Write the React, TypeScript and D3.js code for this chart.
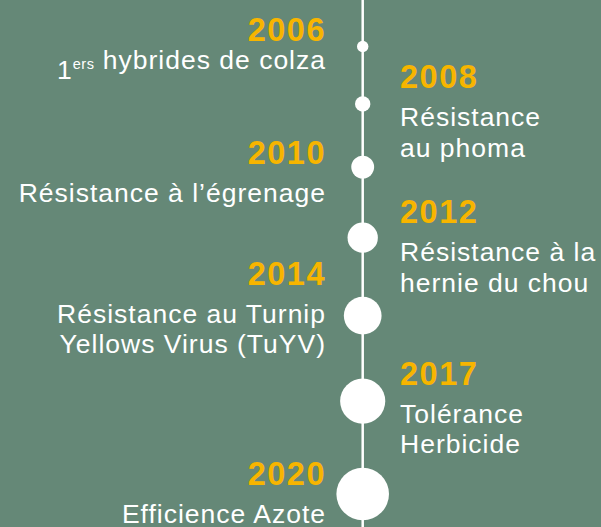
import React, { useRef, useEffect } from 'react';
import * as d3 from 'd3';

// jalons de la frise
const years = ['2006', '2008', '2010', '2012', '2014', '2017', '2020'];
const sides = ['left', 'right', 'left', 'right', 'left', 'right', 'left'];
const labels = [
  ['1{ers} hybrides de colza'],
  ['Résistance', 'au phoma'],
  ['Résistance à l’égrenage'],
  ['Résistance à la', 'hernie du chou'],
  ['Résistance au Turnip', 'Yellows Virus (TuYV)'],
  ['Tolérance', 'Herbicide'],
  ['Efficience Azote'],
];

const App = () => {
  const svgRef = useRef<SVGSVGElement>(null);
  const width = 601;
  const height = 527;

  useEffect(() => {
    const svg = d3.select(svgRef.current).attr('width', width).attr('height', height);
    svg.selectAll('*').remove();

    const axisX = 362.7;
    const gap = 44; // espace entre deux cercles
    const top = 40.8;
    // décalage vertical des textes par rapport au cercle
    const labelShift = [-5.5, -15.6, -3, -14.3, -30.7, -16.2, -8.6];

    const rScale = d3.scaleLinear().domain([0, years.length - 1]).range([4, 26.3]);
    const radii = years.map((_, i) => Math.max(5.7, rScale(i)));

    // empilement des cercles le long de l'axe
    const centers: number[] = [];
    let cursor = top;
    radii.forEach(r => {
      centers.push(cursor + r);
      cursor += 2 * r + gap;
    });

    svg.append('rect').attr('width', width).attr('height', height).attr('fill', '#658877');

    svg.append('line')
      .attr('x1', axisX).attr('x2', axisX)
      .attr('y1', 0).attr('y2', height)
      .attr('stroke', '#fff').attr('stroke-width', 2.5);

    svg.selectAll('circle.dot')
      .data(years)
      .enter()
      .append('circle')
      .attr('class', 'dot')
      .attr('cx', axisX)
      .attr('cy', (_, i) => centers[i])
      .attr('r', (_, i) => radii[i])
      .attr('fill', '#fff');

    const g = svg.append('g').attr('font-family', '"Liberation Sans", Arial, sans-serif');

    years.forEach((year, i) => {
      const left = sides[i] === 'left';
      const x = left ? 325 : 400;
      const anchor = left ? 'end' : 'start';
      const yb = centers[i] + labelShift[i];

      g.append('text')
        .attr('x', left ? x + 1 : x)
        .attr('y', yb)
        .attr('text-anchor', anchor)
        .attr('font-size', 32.5).attr('font-weight', 700)
        .attr('letter-spacing', 1.5)
        .attr('fill', '#f7b500')
        .text(year);

      labels[i].forEach((line, j) => {
        const t = g.append('text')
          .attr('x', left ? x + 1 : x)
          .attr('y', yb + 37.7 + j * 30.7)
          .attr('text-anchor', anchor)
          .attr('font-size', 26.5)
          .attr('letter-spacing', 1)
          .attr('fill', '#fff');
        const parts = line.split(/(\{[^}]*\})/).filter(p => p.length);
        parts.forEach(p => {
          if (p.startsWith('{')) {
            t.append('tspan').attr('font-size', 14.5).attr('letter-spacing', 0.5).attr('dy', -10).text(p.slice(1, -1));
            t.append('tspan').attr('dy', 10).text('');
          } else {
            t.append('tspan').text(p);
          }
        });
      });
    });
  }, []);

  return <svg ref={svgRef} style={{ position: 'absolute', left: 0, top: 0 }}></svg>;
};

export default App;
